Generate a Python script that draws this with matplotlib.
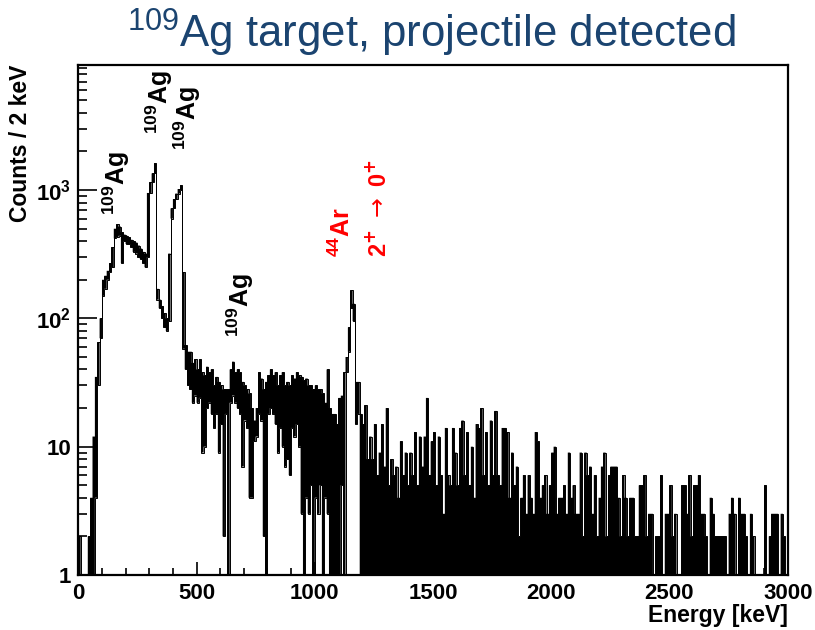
import numpy as np
import matplotlib
matplotlib.use("Agg")
from matplotlib import pyplot as plt
from matplotlib.ticker import MultipleLocator, LogLocator, FixedLocator, FixedFormatter, NullFormatter

plt.rcParams['font.family'] = ['Liberation Sans', 'DejaVu Sans']
plt.rcParams['mathtext.fontset'] = 'custom'
plt.rcParams['mathtext.rm'] = 'Liberation Sans'
plt.rcParams['mathtext.bf'] = 'Liberation Sans:bold'
plt.rcParams['mathtext.default'] = 'bf'

# spectrum, 10 keV per entry (0 - 3000 keV)
# counts_hi = top of the trace in each 10 keV slice, counts_lo = bottom of it
bin_keV = 10
counts_hi = [
    2, 1, 1, 1, 2, 4, 12, 35, 65, 100,
    200, 215, 235, 270, 360, 500, 540, 520, 470, 450,
    440, 430, 410, 400, 390, 370, 350, 330, 320, 950,
    1150, 1350, 1620, 170, 140, 125, 110, 100, 320, 720,
    850, 940, 1020, 1090, 230, 62, 55, 55, 45, 48,
    40, 48, 38, 36, 42, 38, 40, 30, 35, 32,
    30, 28, 28, 28, 40, 46, 38, 40, 38, 32,
    30, 28, 26, 20, 16, 20, 38, 34, 28, 32,
    36, 40, 36, 38, 30, 36, 38, 30, 32, 30,
    36, 34, 38, 36, 35, 33, 34, 30, 30, 28,
    30, 28, 28, 26, 22, 40, 20, 18, 18, 15,
    24, 25, 38, 50, 85, 165, 130, 32, 32, 18,
    15, 21, 8, 12, 8, 15, 6, 9, 15, 7,
    20, 5, 8, 6, 7, 4, 11, 6, 9, 5,
    9, 6, 13, 5, 12, 7, 12, 24, 6, 11,
    13, 5, 12, 6, 3, 14, 6, 5, 14, 9,
    5, 14, 16, 6, 13, 5, 10, 4, 15, 14,
    20, 6, 13, 5, 16, 6, 19, 6, 5, 14,
    14, 13, 4, 9, 5, 7, 2, 4, 6, 3,
    6, 4, 3, 13, 11, 4, 5, 6, 3, 5,
    9, 10, 3, 4, 4, 5, 3, 9, 4, 5,
    3, 3, 9, 2, 9, 6, 7, 3, 6, 2,
    4, 7, 9, 2, 6, 7, 7, 7, 4, 2,
    6, 4, 2, 4, 4, 2, 2, 5, 5, 6,
    2, 3, 3, 1, 2, 2, 6, 1, 3, 3,
    5, 2, 3, 1, 1, 5, 5, 3, 6, 2,
    5, 5, 6, 3, 3, 2, 1, 4, 3, 2,
    2, 2, 2, 2, 1, 3, 4, 3, 1, 4,
    3, 3, 2, 1, 3, 2, 0, 0, 0, 0,
    5, 1, 2, 3, 3, 3, 1, 3, 2, 0,
]
counts_lo = [
    0, 0, 0, 0, 0, 0, 0, 4, 30, 70,
    150, 170, 200, 230, 250, 420, 430, 440, 270, 400,
    380, 380, 360, 330, 320, 300, 290, 270, 250, 300,
    950, 1150, 1350, 140, 120, 100, 85, 80, 95, 600,
    720, 850, 940, 1000, 58, 40, 30, 28, 22, 25,
    22, 24, 9, 10, 20, 22, 18, 14, 18, 9,
    15, 2, 18, 0, 22, 25, 22, 20, 18, 7,
    16, 14, 4, 4, 11, 12, 18, 16, 2, 0,
    18, 20, 18, 15, 9, 14, 10, 7, 8, 6,
    14, 12, 15, 10, 3, 0, 4, 3, 5, 0,
    4, 3, 5, 0, 4, 3, 0, 0, 0, 0,
    0, 5, 0, 38, 55, 120, 95, 15, 18, 0,
] + [0] * 180
edges = np.arange(0, bin_keV * len(counts_hi) + 1, bin_keV)

y_ticks = [1, 10, 100, 1000]
y_labels = ['1', '10', r'$10^{2}$', r'$10^{3}$']
x_ticks = [0, 500, 1000, 1500, 2000, 2500, 3000]

# peak labels: text, energy, counts (bottom of text), colour
ag_label = r'$^{109}$Ag'
peak_labels = [
    (ag_label, 162, 640, 'black'),
    (ag_label, 344, 2750, 'black'),
    (ag_label, 462, 2050, 'black'),
    (ag_label, 685, 72, 'black'),
    (r'$^{44}$Ar', 1114, 300, 'red'),
]
transition = r'2$^{+}$ $\mathrm{\rightarrow}$ 0$^{+}$'

fig = plt.figure(figsize=(8.15, 6.3), dpi=100)
ax = fig.add_axes([0.0961, 0.0873, 0.8704, 0.8095])
ax.set_yscale('log', nonpositive='clip')

hi = np.array(counts_hi, dtype=float)
lo = np.array(counts_lo, dtype=float)
ax.fill_between(edges, np.append(lo, lo[-1]), np.append(hi, hi[-1]),
                step='post', color='black', lw=0)
ax.stairs(hi, edges, baseline=None, color='black', lw=0.7)
ax.stairs(lo, edges, baseline=None, color='black', lw=0.7)

ax.set_xlim(0, 3000)
ax.set_ylim(1, 9440)

ax.xaxis.set_major_locator(FixedLocator(x_ticks))
ax.xaxis.set_minor_locator(MultipleLocator(100))
ax.yaxis.set_major_locator(FixedLocator(y_ticks))
ax.yaxis.set_major_formatter(FixedFormatter(y_labels))
ax.yaxis.set_minor_locator(LogLocator(base=10, subs=np.arange(2, 10)))
ax.yaxis.set_minor_formatter(NullFormatter())

ax.tick_params(which='both', direction='in', top=False, right=False, width=1.2)
ax.tick_params(axis='x', which='major', length=9.5, pad=6)
ax.tick_params(axis='x', which='minor', length=5)
ax.tick_params(axis='y', which='major', length=14, pad=5)
ax.tick_params(axis='y', which='minor', length=6.5)
for lab in ax.get_xticklabels() + ax.get_yticklabels():
    lab.set_fontsize(16)
    lab.set_fontweight('bold')
for sp in ax.spines.values():
    sp.set_linewidth(1.6)

ax.set_xlabel('Energy [keV]', fontsize=16.5, fontweight='bold', loc='right', labelpad=0)
ax.set_ylabel('Counts / 2 keV', fontsize=16.5, fontweight='bold', loc='top', labelpad=3)

for text, energy, level, col in peak_labels:
    ax.text(energy, level, text, rotation=90, ha='center', va='bottom',
            fontsize=18, fontweight='bold', color=col)
ax.text(1268, 300, transition, rotation=90, ha='center', va='bottom',
        fontsize=17, fontweight='bold', color='red', math_fontfamily='dejavusans')

fig.text(0.53, 0.947, r'$\mathrm{^{109}}$Ag target, projectile detected',
         ha='center', va='center', fontsize=31.5, color='#1b4470')

fig.savefig('out.png', dpi=100)
